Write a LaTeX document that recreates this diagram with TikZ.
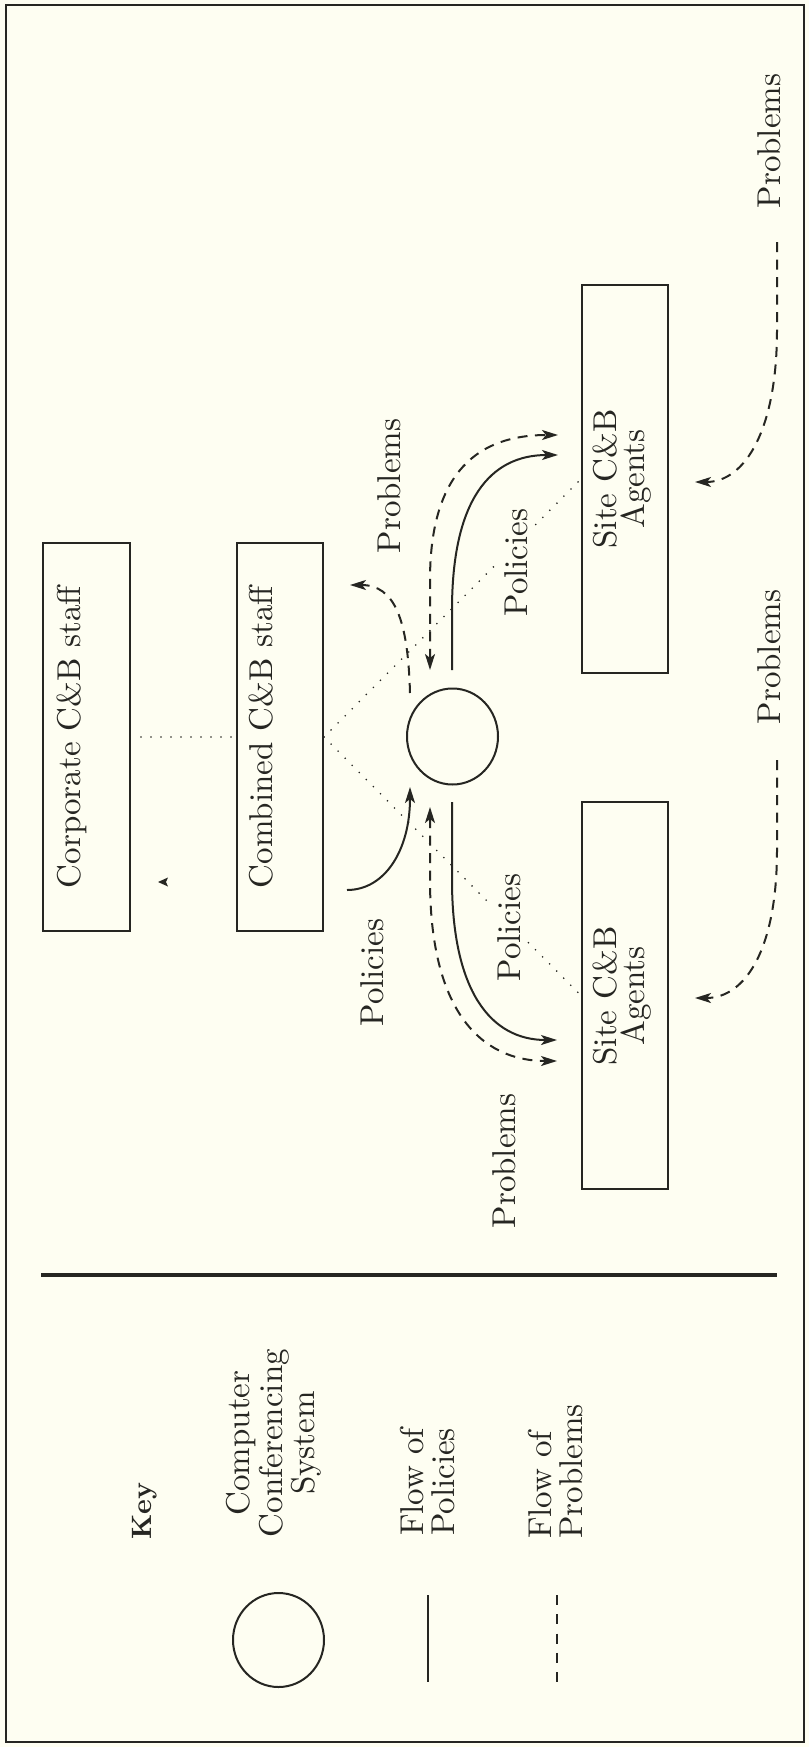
\documentclass[tikz,border=0pt]{standalone}
\usepackage{fontspec}
\setmainfont{lmroman10-regular.otf}[BoldFont=lmroman10-bold.otf]
\usetikzlibrary{arrows.meta,shapes.geometric}
\definecolor{bg}{RGB}{254,254,242}
\definecolor{ink}{RGB}{38,38,34}
\begin{document}
\begin{tikzpicture}[x=1pt,y=-1pt,
  every node/.style={text=ink},
  lbl/.style={rotate=90,anchor=base,inner sep=0pt,font=\fontsize{33}{30}\selectfont},
  gap/.style={fill=bg,inner sep=7pt},
  ml/.style={rotate=90,inner sep=0pt,anchor=center},
  boxnode/.style={draw=ink,line width=2pt,rectangle,inner sep=0pt,minimum width=86pt,minimum height=388pt},
  ccsnode/.style={draw=ink,line width=2pt,ellipse,inner sep=0pt,minimum width=91pt,minimum height=96pt},
  pol/.style={draw=ink,line width=2pt},
  prob/.style={draw=ink,line width=2pt,dash pattern=on 10pt off 7.5pt},
  dots/.style={draw=ink,line width=1.8pt,line cap=round,dash pattern=on 0pt off 10pt},
  tip/.style={-{Stealth[length=16pt,width=10pt,inset=4pt]}},
  tips/.style={{Stealth[length=16pt,width=10pt,inset=4pt]}-{Stealth[length=16pt,width=10pt,inset=4pt]}}
]
\useasboundingbox (0,0) rectangle (809,1747);
\fill[bg] (0,0) rectangle (809,1747);
\draw[ink,line width=1.6pt] (6,5) rectangle (804,1742);

% boxes and circle
\node[boxnode,minimum width=87pt] (corp) at (86.5,737) {};
\node[boxnode] (comb) at (280,737) {};
\node[boxnode] (sitetop) at (625,479) {};
\node[boxnode,minimum height=387pt] (sitebot) at (625,995.5) {};
\node[ccsnode] (ccs) at (452.5,736.5) {};

% dotted links
\draw[dots,shorten <=10pt,shorten >=4pt] (corp.east) -- (comb.west);
\draw[dots] (comb.east) -- (sitetop.west);
\draw[dots] (comb.east) -- (sitebot.west);

% box texts
\node[lbl] (corptxt) at (80,737) {Corporate C\&B staff};
\node[lbl] (combtxt) at (272,737) {Combined C\&B staff};
\node[ml,align=center,font=\fontsize{33}{28}\selectfont] (sitetoptxt) at (622,479) {Site C\&B\\Agents};
\node[ml,align=center,font=\fontsize{33}{28}\selectfont] (sitebottxt) at (622,996) {Site C\&B\\Agents};

% flow labels
\node[lbl] (lpt) at (400,486) {Problems};
\node[lbl,gap] (lpo) at (527,562.5) {Policies};
\node[lbl,gap] (lpm) at (520,927.5) {Policies};
\node[lbl] (lpl) at (383,972.5) {Policies};
\node[lbl] (lpb) at (515,1161) {Problems};
\node[lbl] (lr1) at (780,141) {Problems};
\node[lbl] (lr2) at (780,657) {Problems};

% connector end points
\coordinate (ul0) at (410,693);  \coordinate (ul1) at (350,585);
\coordinate (ut0) at (430,670);  \coordinate (ut1) at (558,435);
\coordinate (us0) at (452,670);  \coordinate (us1) at (558,455);
\coordinate (ld0) at (430,807);  \coordinate (ld1) at (557,1061);
\coordinate (ls0) at (452,802);  \coordinate (ls1) at (557,1040);
\coordinate (lp0) at (347,890);  \coordinate (lp1) at (410,787);
\coordinate (rt0) at (777,242);  \coordinate (rt1) at (695,482);
\coordinate (rb0) at (777,760);  \coordinate (rb1) at (695,998);

% flows
\draw[prob,tip] (ul0) .. controls (408,620) and (395,585) .. (ul1);
\draw[prob,tips] (ut0) -- (430,580) .. controls (430,470) and (480,435) .. (ut1);
\draw[pol,tip] (us0) -- (452,610) .. controls (452,500) and (490,455) .. (us1);
\draw[prob,tips] (ld0) -- (430,880) .. controls (430,1010) and (480,1061) .. (ld1);
\draw[pol,tip] (ls0) -- (452,880) .. controls (452,990) and (490,1040) .. (ls1);
\draw[pol,tip] (lp0) .. controls (385,890) and (410,850) .. (lp1);
\draw[prob,tip] (rt0) -- (777,330) .. controls (777,430) and (745,482) .. (rt1);
\draw[prob,tip] (rb0) -- (777,850) .. controls (777,950) and (745,998) .. (rb1);

% speck
\fill[ink] (158,882) -- (168,877.5) -- (166,882) -- (168,886.5) -- cycle;

% separator
\draw[ink,line width=3.5pt] (41,1275) -- (777,1275);

% key
\node[rotate=90,anchor=base,inner sep=0pt,font=\bfseries\fontsize{28}{30}\selectfont] (key) at (151,1511) {Key};
\node[ml,align=center,font=\fontsize{33}{32.5}\selectfont] (ccstxt) at (274,1443) {Computer\\Conferencing\\System};
\node[ccsnode,minimum height=94pt] (keyccs) at (278.5,1640) {};
\node[ml,align=left,font=\fontsize{33}{31}\selectfont] (fpol) at (427.5,1482) {Flow of\\Policies};
\node[ml,align=left,font=\fontsize{33}{31}\selectfont] (fprob) at (555.5,1471.5) {Flow of\\Problems};
\coordinate (kp0) at (428,1595); \coordinate (kp1) at (428,1682);
\coordinate (kd0) at (557,1595); \coordinate (kd1) at (557,1682);
\draw[pol] (kp0) -- (kp1);
\draw[draw=ink,line width=2pt,dash pattern=on 10pt off 9.25pt] (kd0) -- (kd1);
\end{tikzpicture}
\end{document}
